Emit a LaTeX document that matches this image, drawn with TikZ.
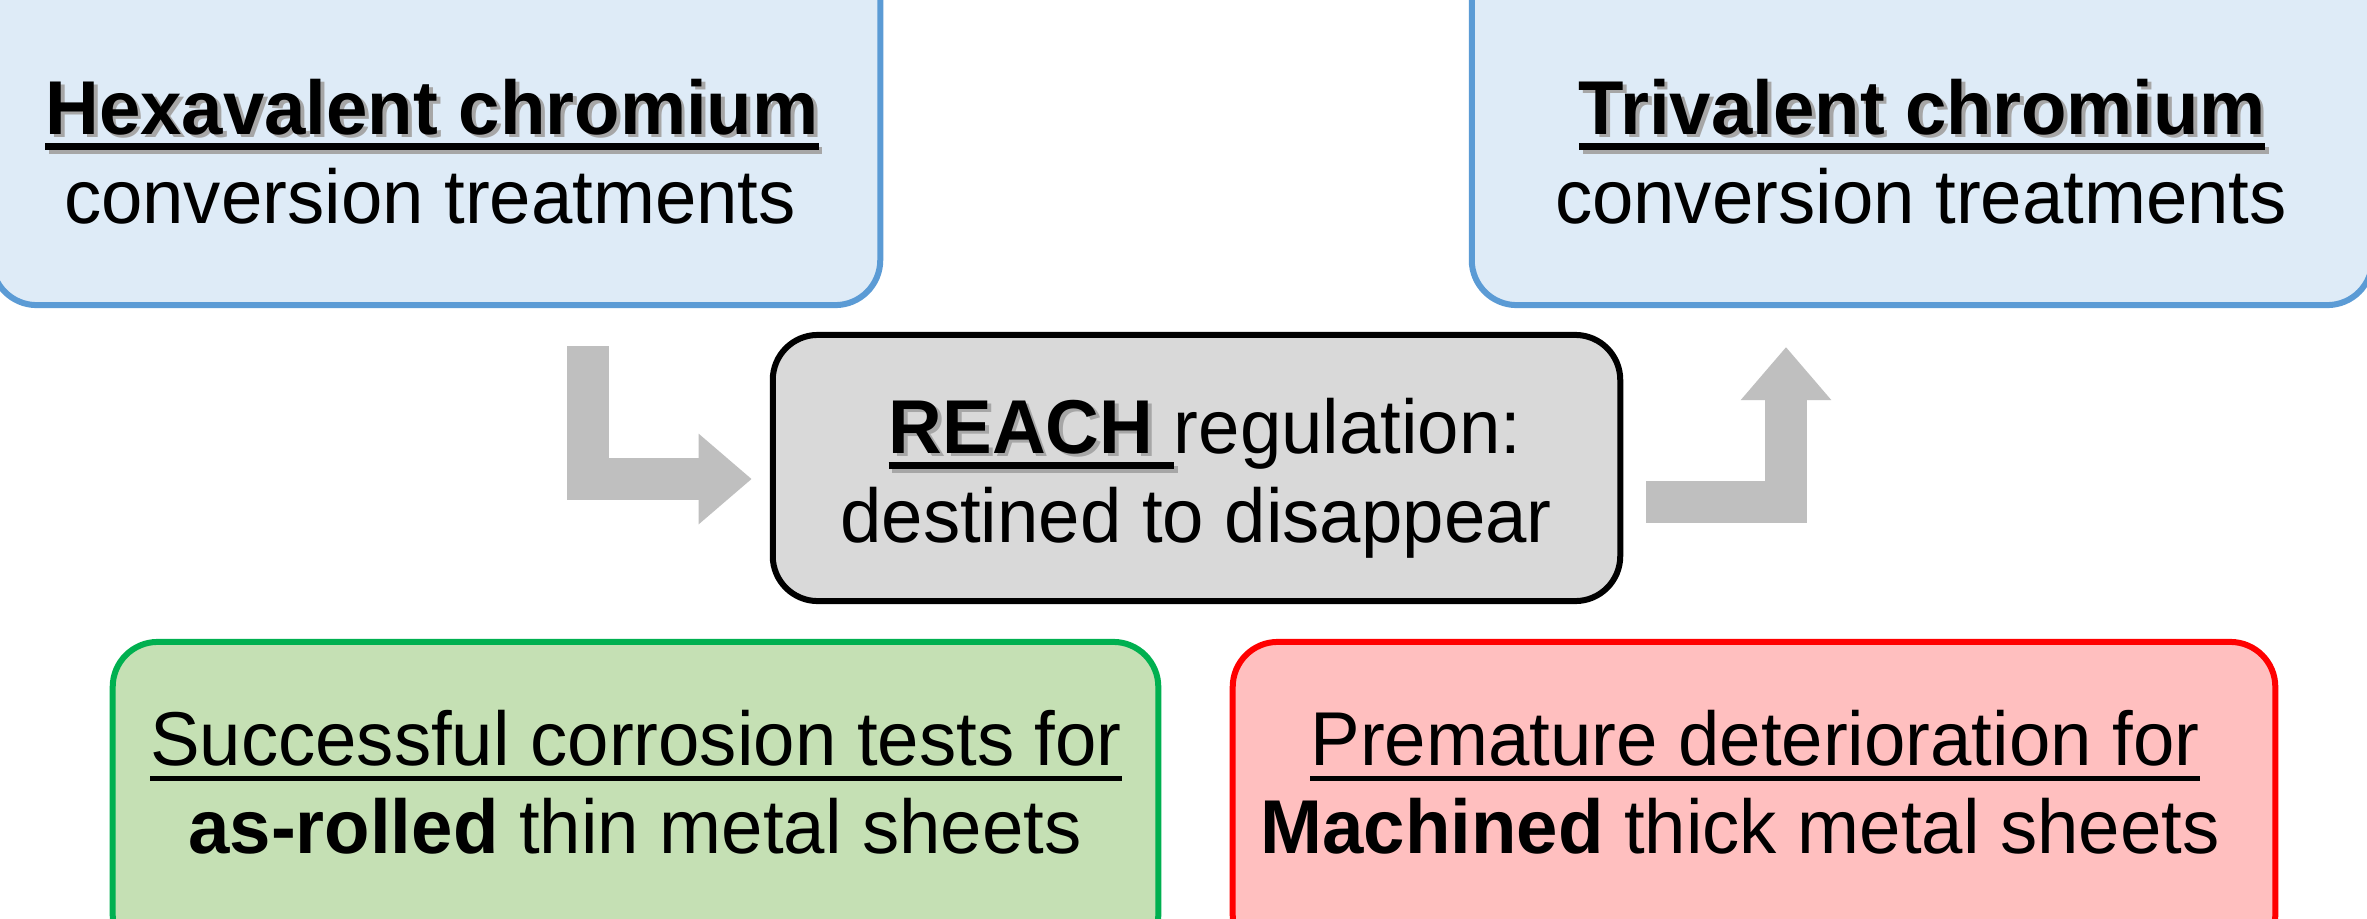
\documentclass[tikz,border=0pt]{standalone}
\usepackage{fontspec}
\setmainfont[FakeStretch=0.975]{Liberation Sans}
\usetikzlibrary{arrows.meta}

\definecolor{bluefill}{HTML}{DEEBF7}
\definecolor{blueline}{HTML}{5B9BD5}
\definecolor{grayfill}{HTML}{D9D9D9}
\definecolor{greenfill}{HTML}{C5E0B4}
\definecolor{greenline}{HTML}{00B050}
\definecolor{redfill}{HTML}{FFBFBF}
\definecolor{redline}{HTML}{FF0000}
\definecolor{arrowgray}{HTML}{BFBFBF}

% underline with a chosen thickness
\newcommand\uln[2][0.07em]{\setbox0\hbox{#2}\rlap{\rule[-0.21em]{\wd0}{#1}}\box0}
% soft grey drop shadow under a piece of text
\newcommand\shadowtext[1]{\leavevmode\rlap{\kern0.05em\raisebox{-0.05em}{\color{black!35}#1}}#1}

\begin{document}
\begin{tikzpicture}[x=0.01cm, y=-0.01cm,
  box/.style={rounded corners=0.45cm, line width=0.06cm},
  txt/.style={inner sep=0pt, anchor=base, font=\fontsize{21.7pt}{25pt}\selectfont},
  flow/.style={draw=arrowgray, line width=0.42cm, line join=miter,
    -{Triangle[width=0.87cm, length=0.53cm]}}
]
\fill[white] (0,0) rectangle (2367,918);
\useasboundingbox (0,0) rectangle (2367,918);

% boxes
\node[box, draw=blueline, fill=bluefill, minimum width=8.88cm, minimum height=3.65cm] (hex) at (436,122.5) {};
\node[box, draw=blueline, fill=bluefill, minimum width=9.00cm, minimum height=3.65cm] (tri) at (1922,122.5) {};
\node[box, draw=black, fill=grayfill, minimum width=8.47cm, minimum height=2.66cm] (reach) at (1196.5,468) {};
\node[box, draw=greenline, fill=greenfill, minimum width=10.45cm, minimum height=3.18cm] (thin) at (635.5,801) {};
\node[box, draw=redline, fill=redfill, minimum width=10.42cm, minimum height=3.18cm] (thick) at (1754,801) {};

% texts
\node[txt] (hexA) at (432,134) {\shadowtext{\uln[0.09em]{\textbf{Hexavalent chromium}}}};
\node[txt] (hexB) at (430,223) {conversion treatments};
\node[txt] (triA) at (1922,134) {\shadowtext{\uln[0.09em]{\textbf{Trivalent chromium}}}};
\node[txt] (triB) at (1921,223) {conversion treatments};
\node[txt] (reachA) at (1205,453) {\shadowtext{\uln[0.09em]{\textbf{REACH }}}regulation:};
\node[txt] (reachB) at (1196,542) {destined to disappear};
\node[txt] (thinA) at (636,765) {\uln[0.07em]{Successful corrosion tests for}};
\node[txt] (thinB) at (635,853) {\textbf{as-rolled} thin metal sheets};
\node[txt] (thickA) at (1755,765) {\uln[0.07em]{Premature deterioration for}};
\node[txt] (thickB) at (1740,853) {\textbf{Machined} thick metal sheets};

% bent block arrows
\coordinate (startL) at (588,346);
\coordinate (endR) at (1786,347);
\draw[flow] (startL) |- ([xshift=-0.18cm, yshift=-0.11cm]reach.west);
\draw[flow] ([xshift=0.23cm, yshift=-0.34cm]reach.east) -| (endR);
\end{tikzpicture}
\end{document}
